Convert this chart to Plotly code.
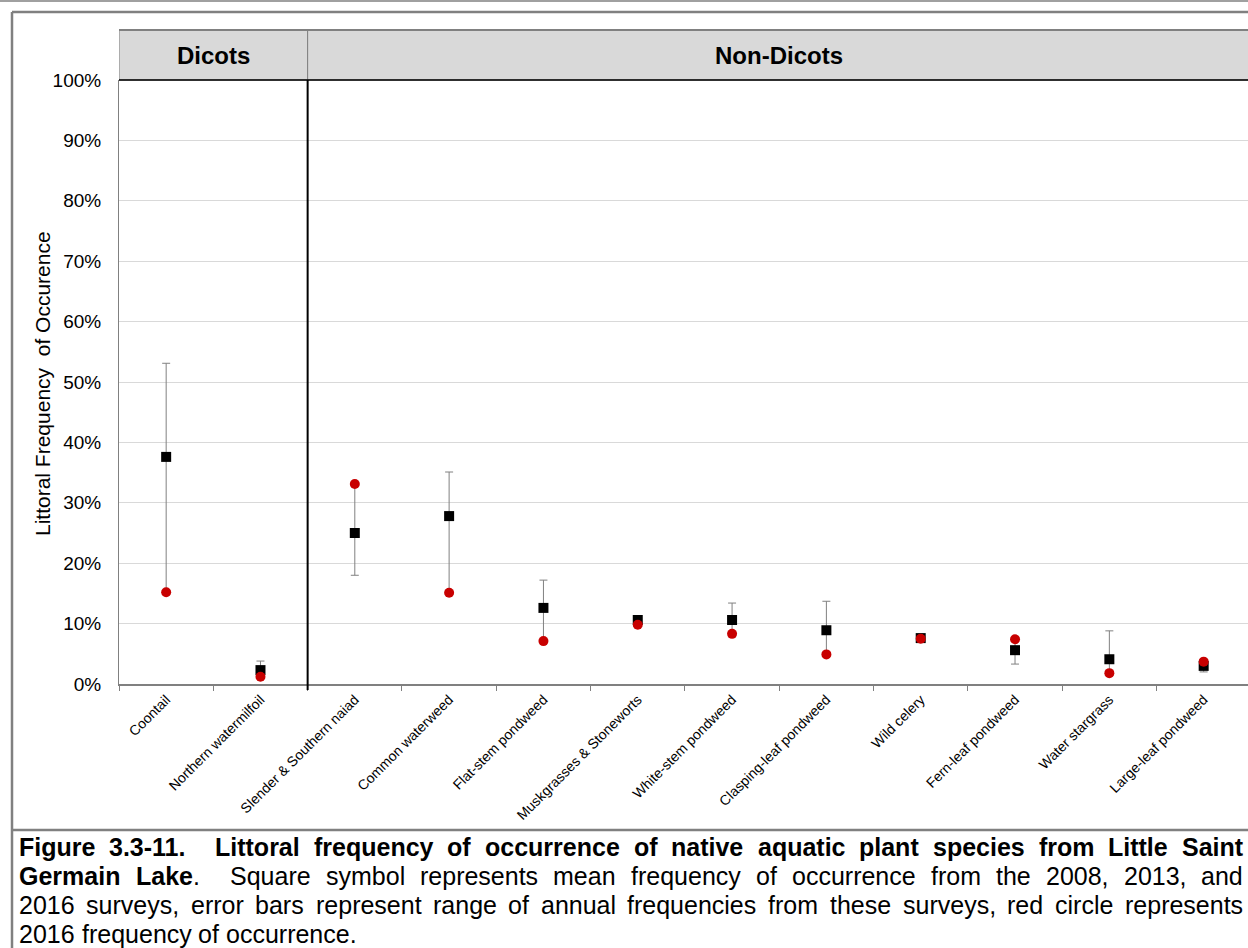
import plotly.graph_objects as go

species = ["Coontail", "Northern watermilfoil", "Slender & Southern naiad", "Common waterweed",
           "Flat-stem pondweed", "Muskgrasses & Stoneworts", "White-stem pondweed",
           "Clasping-leaf pondweed", "Wild celery", "Fern-leaf pondweed", "Water stargrass",
           "Large-leaf pondweed"]
mean_freq = [37.6, 2.3, 25.0, 27.8, 12.6, 10.6, 10.6, 8.9, 7.6, 5.6, 4.1, 3.0]
min_freq = [15.2, 1.2, 18.0, 15.1, 7.1, 9.8, 8.3, 4.9, 7.5, 3.3, 1.8, 2.0]
max_freq = [53.1, 3.8, 33.1, 35.1, 17.2, 11.3, 13.4, 13.7, 7.8, 7.4, 8.8, 3.7]
freq_2016 = [15.2, 1.2, 33.1, 15.1, 7.1, 9.8, 8.3, 4.9, 7.5, 7.4, 1.8, 3.7]
groups = ["Dicots", "Non-Dicots"]
n_dicots = 2

# caption lines: list of (text, bold) segments; last line is not justified
caption_lines = [
    [("Figure 3.3-11.  Littoral frequency of occurrence of native aquatic plant species from Little Saint", True)],
    [("Germain Lake", True), (".  Square symbol represents mean frequency of occurrence from the 2008, 2013, and", False)],
    [("2016 surveys, error bars represent range of annual frequencies from these surveys, red circle represents", False)],
    [("2016 frequency of occurrence.", False)],
]

W, H = 1248, 948
L, R, T, B = 119, 0, 80, 264
PW, PH = W - L - R, H - T - B
FONT = "Liberation Sans, Arial"


def xp(px):
    return (px - L) / PW


def yp(py):
    return (H - B - py) / PH


# Arial advance widths (1/1000 em) for justification of the caption
REG = {" ": 278, ",": 278, "-": 333, ".": 278, "&": 667, "%": 889}
BOLD = {" ": 278, ",": 278, "-": 333, ".": 278, "&": 722, "%": 889}
for d in "0123456789":
    REG[d] = 556
    BOLD[d] = 556
REG.update(dict(zip("ABCDEFGHIJKLMNOPQRSTUVWXYZ",
                    [667, 667, 722, 722, 667, 611, 778, 722, 278, 500, 667, 556, 833, 722, 778, 667,
                     778, 722, 667, 611, 722, 667, 944, 667, 667, 611])))
REG.update(dict(zip("abcdefghijklmnopqrstuvwxyz",
                    [556, 556, 500, 556, 556, 278, 556, 556, 222, 222, 500, 222, 833, 556, 556, 556,
                     556, 333, 500, 278, 556, 500, 722, 500, 500, 500])))
BOLD.update(dict(zip("ABCDEFGHIJKLMNOPQRSTUVWXYZ",
                     [722, 722, 722, 722, 667, 611, 778, 722, 278, 556, 722, 611, 833, 722, 778, 667,
                      778, 722, 667, 611, 722, 667, 944, 667, 667, 611])))
BOLD.update(dict(zip("abcdefghijklmnopqrstuvwxyz",
                     [556, 611, 556, 611, 556, 333, 611, 611, 278, 278, 556, 278, 889, 611, 611, 611,
                      611, 389, 556, 333, 611, 556, 778, 556, 556, 500])))


def char_list(segments):
    out = []
    for txt, bold in segments:
        for ch in txt:
            out.append((ch, bold))
    return out


def tokens(segments):
    """split into words (list of (char,bold)) and gaps (number of spaces)"""
    chars = char_list(segments)
    words, gaps = [], []
    cur = []
    nsp = 0
    for ch, b in chars:
        if ch == " ":
            if cur:
                words.append(cur)
                cur = []
            nsp += 1
        else:
            if nsp and words:
                gaps.append(nsp)
            nsp = 0
            cur.append((ch, b))
    if cur:
        words.append(cur)
    return words, gaps


def width(word, size):
    return sum((BOLD if b else REG).get(c, 556) for c, b in word) * size / 1000


def markup(word):
    s = ""
    for c, b in word:
        c2 = "&amp;" if c == "&" else c
        s += ("<b>%s</b>" % c2) if b else c2
    return s.replace("</b><b>", "")


mean_f = [v / 100 for v in mean_freq]
up = [(mx - m) / 100 for mx, m in zip(max_freq, mean_freq)]
dn = [(m - mn) / 100 for m, mn in zip(mean_freq, min_freq)]
f16 = [v / 100 for v in freq_2016]

fig = go.Figure()
fig.add_trace(go.Scatter(
    x=species, y=mean_f, mode="markers",
    marker=dict(symbol="square", size=10, color="black"),
    error_y=dict(type="data", array=up, arrayminus=dn, color="#808080", thickness=1, width=4),
    showlegend=False, hoverinfo="skip"))
fig.add_trace(go.Scatter(
    x=species, y=f16, mode="markers",
    marker=dict(symbol="circle", size=10, color="#c80000"),
    showlegend=False, hoverinfo="skip"))

gray = "#808080"
div_x = n_dicots - 0.5
shapes = [
    dict(type="line", xref="paper", yref="paper", x0=xp(0), x1=xp(W), y0=yp(1), y1=yp(1),
         line=dict(color="#a0a0a0", width=2)),
    dict(type="line", xref="paper", yref="paper", x0=xp(12), x1=xp(12), y0=yp(12), y1=yp(H + 5),
         line=dict(color=gray, width=2.5)),
    dict(type="line", xref="paper", yref="paper", x0=xp(12), x1=xp(W + 5), y0=yp(12), y1=yp(12),
         line=dict(color=gray, width=2.5)),
    dict(type="line", xref="paper", yref="paper", x0=xp(12), x1=xp(W + 5), y0=yp(830), y1=yp(830),
         line=dict(color=gray, width=2.5)),
    dict(type="rect", xref="x", yref="paper", x0=-0.5, x1=div_x, y0=1, y1=yp(30),
         fillcolor="#d9d9d9", line=dict(color=gray, width=1)),
    dict(type="rect", xref="x", yref="paper", x0=div_x, x1=len(species) + 0.5, y0=1, y1=yp(30),
         fillcolor="#d9d9d9", line=dict(color=gray, width=1)),
    dict(type="line", xref="paper", yref="paper", x0=0, x1=1.01, y0=yp(30), y1=yp(30),
         line=dict(color=gray, width=2)),
    dict(type="line", xref="paper", yref="paper", x0=0, x1=1.01, y0=1, y1=1,
         line=dict(color="black", width=1.5)),
    dict(type="line", xref="x", yref="paper", x0=div_x, x1=div_x, y0=1, y1=yp(690),
         line=dict(color="black", width=2)),
]

annotations = [
    dict(text="<b>" + groups[0] + "</b>", xref="x", yref="paper", x=(-0.5 + div_x) / 2, y=yp(55),
         showarrow=False, font=dict(size=24, color="black", family=FONT),
         xanchor="center", yanchor="middle"),
    dict(text="<b>" + groups[1] + "</b>", xref="x", yref="paper", x=(div_x + len(species) - 0.5) / 2,
         y=yp(55), showarrow=False, font=dict(size=24, color="black", family=FONT),
         xanchor="center", yanchor="middle"),
    dict(text="Littoral Frequency  of Occurence", xref="paper", yref="paper", x=xp(42), y=yp(384),
         textangle=-90, showarrow=False, font=dict(size=21, color="black", family=FONT),
         xanchor="center", yanchor="middle"),
]

CAP_SIZE = 25
CAP_LEFT, CAP_RIGHT = 18, 1242
cap_y = [847, 876, 905, 934]
for i, (segs, cy) in enumerate(zip(caption_lines, cap_y)):
    words, gaps = tokens(segs)
    wsum = sum(width(w, CAP_SIZE) for w in words)
    space_w = REG[" "] * CAP_SIZE / 1000
    nat = wsum + sum(gaps) * space_w
    last = i == len(caption_lines) - 1
    extra = 0 if last else (CAP_RIGHT - CAP_LEFT - nat) / max(sum(gaps), 1)
    x = CAP_LEFT
    for j, w in enumerate(words):
        annotations.append(dict(text=markup(w), xref="paper", yref="paper", x=xp(x), y=yp(cy),
                                showarrow=False, xanchor="left", yanchor="middle", borderpad=0,
                                font=dict(size=CAP_SIZE, color="black", family=FONT)))
        x += width(w, CAP_SIZE)
        if j < len(gaps):
            x += gaps[j] * (space_w + extra)

fig.update_layout(
    width=W, height=H, margin=dict(l=L, r=R, t=T, b=B, pad=0),
    paper_bgcolor="white", plot_bgcolor="white",
    font=dict(family=FONT, color="black"),
    shapes=shapes, annotations=annotations, showlegend=False,
    xaxis=dict(type="category", range=[-0.5, len(species) - 0.53], tickangle=-45,
               tickson="boundaries", ticks="outside", ticklen=5, tickcolor=gray,
               showline=True, linecolor=gray, linewidth=2, showgrid=False,
               tickfont=dict(size=14, color="black"), fixedrange=True),
    yaxis=dict(range=[0, 1], dtick=0.1, tickformat=".0%", showgrid=True, gridcolor="#d9d9d9",
               gridwidth=1, showline=True, linecolor=gray, linewidth=1, ticks="",
               ticklabelstandoff=13, zeroline=False,
               tickfont=dict(size=19, color="black"), fixedrange=True),
)

fig.write_html("out.html", config={"displayModeBar": False},
               post_script="document.body.style.margin='0';")
